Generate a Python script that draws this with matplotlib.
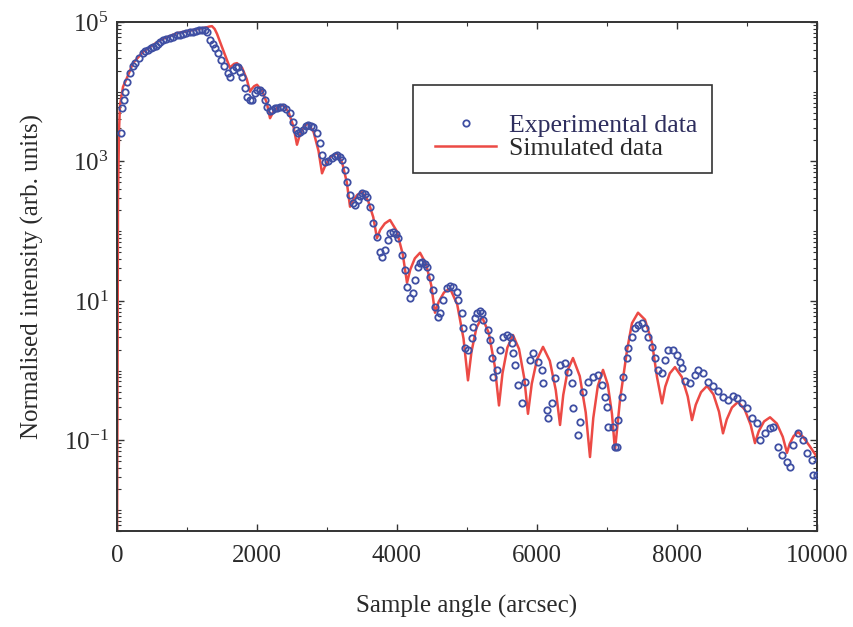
import matplotlib
matplotlib.use("Agg")
import matplotlib.pyplot as plt
import numpy as np
from matplotlib.patches import Rectangle
from matplotlib.ticker import FixedLocator, LogLocator, MultipleLocator, NullFormatter

# ---------------------------------------------------------------------------
# Data (intensities stored as log10 values)
# ---------------------------------------------------------------------------

# simulated rocking curve
sim_angle = [
    0, 14, 29, 43, 86, 143, 229, 371, 614, 857, 1086, 1286, 1320, 1357, 1395,
    1429, 1500, 1614, 1639, 1674, 1714, 1788, 1854, 1900, 1925, 1960, 2000,
    2074, 2140, 2186, 2232, 2297, 2371, 2451, 2521, 2571, 2611, 2666, 2729,
    2809, 2879, 2929, 2983, 3057, 3143, 3217, 3283, 3329, 3372, 3432, 3500,
    3586, 3661, 3714, 3761, 3826, 3900, 3997, 4082, 4143, 4190, 4255, 4329,
    4415, 4490, 4543, 4597, 4671, 4757, 4860, 4950, 5014, 5064,
    5134, 5214, 5311, 5396, 5457, 5507, 5577, 5657, 5743, 5818, 5871, 5925,
    6000, 6086, 6183, 6268, 6329, 6375, 6440, 6514, 6611, 6696, 6757, 6804,
    6869, 6943, 7011, 7071, 7114, 7186, 7286, 7357, 7443, 7543, 7643, 7714,
    7786, 7832, 7897, 7971, 8068, 8153, 8214, 8268, 8343, 8429, 8520, 8600,
    8657, 8711, 8785, 8871, 8968, 9053, 9114, 9168, 9243, 9329, 9426, 9511,
    9571, 9610, 9666, 9729, 9800, 9900, 10000,
]
sim_log_int = [
    -3.0, 2.45, 3.45, 3.81, 4.07, 4.20, 4.41, 4.57, 4.74, 4.84, 4.885, 4.925,
    4.935, 4.94, 4.90, 4.83, 4.64, 4.34, 4.37, 4.40, 4.41, 4.34, 4.18, 4.00,
    4.04, 4.08, 4.10, 4.01, 3.84, 3.62, 3.71, 3.78, 3.81, 3.71, 3.50, 3.24,
    3.38, 3.49, 3.55, 3.42, 3.15, 2.83, 2.96, 3.07, 3.12, 2.98, 2.70, 2.35,
    2.44, 2.52, 2.56, 2.44, 2.20, 1.90, 2.02, 2.11, 2.16, 2.00, 1.67, 1.26,
    1.45, 1.61, 1.69, 1.53, 1.22, 0.83, 0.99, 1.12, 1.18, 0.95,
    0.46, -0.14, 0.27, 0.61, 0.77, 0.54, 0.07, -0.50, -0.04, 0.33, 0.51, 0.31,
    -0.11, -0.62, -0.19, 0.16, 0.34, 0.14, -0.28, -0.78, -0.35, 0.01, 0.18,
    -0.08, -0.60, -1.24, -0.68, -0.22, 0.01, -0.20, -0.62, -1.14, -0.42, 0.29,
    0.68, 0.83, 0.73, 0.40, -0.09, -0.47, -0.23, -0.04, 0.05, -0.09, -0.37,
    -0.71, -0.49, -0.31, -0.22, -0.34, -0.59, -0.90, -0.70, -0.53, -0.45,
    -0.56, -0.78, -1.04, -0.87, -0.73, -0.67, -0.76, -0.95, -1.18, -1.05,
    -0.94, -0.88, -0.95, -1.09, -1.24,
]

# experimental points
exp_angle = [
    57, 71, 100, 114, 143, 186, 229, 257, 314, 371, 400, 443, 480, 514, 550,
    586, 620, 657, 700, 757, 800, 857, 900, 943, 990, 1043, 1090, 1129, 1170,
    1214, 1250, 1286, 1329, 1371, 1400, 1443, 1486, 1529, 1586, 1614, 1657,
    1700, 1729, 1757, 1786, 1829, 1857, 1900, 1929, 1971, 2000, 2043, 2071,
    2114, 2143, 2186, 2214, 2257, 2286, 2329, 2371, 2414, 2471, 2514, 2557,
    2586, 2614, 2657, 2700, 2729, 2771, 2800, 2857, 2900, 2929, 2971, 3014,
    3071, 3114, 3143, 3186, 3214, 3257, 3286, 3329, 3371, 3400, 3443, 3471,
    3500, 3543, 3571, 3614, 3657, 3714, 3757, 3786, 3829, 3871, 3900, 3943,
    3986, 4014, 4071, 4114, 4143, 4186, 4229, 4257, 4300, 4329, 4357, 4400,
    4429, 4471, 4514, 4543, 4586, 4614, 4657, 4714, 4757, 4800, 4857, 4871,
    4929, 4943, 4971, 5014, 5071, 5086, 5114, 5143, 5186, 5214, 5229, 5300,
    5329, 5357, 5371, 5429, 5471, 5514, 5571, 5614, 5643, 5657, 5686, 5729,
    5786, 5829, 5900, 5943, 6014, 6071, 6086, 6143, 6157, 6214, 6257, 6329,
    6400, 6443, 6500, 6514, 6586, 6614, 6657, 6729, 6800, 6871, 6929, 6971,
    7000, 7014, 7086, 7114, 7143, 7157, 7214, 7229, 7286, 7300, 7357, 7400,
    7443, 7500, 7543, 7586, 7643, 7686, 7729, 7786, 7829, 7871, 7943, 8000,
    8043, 8071, 8114, 8186, 8257, 8300, 8371, 8443, 8514, 8586, 8657, 8729,
    8800, 8857, 8929, 9000, 9071, 9143, 9186, 9257, 9329, 9371, 9443, 9500,
    9571, 9614, 9657, 9729, 9800, 9857, 9929, 9943, 10000,
]
exp_log_int = [
    3.41, 3.77, 3.88, 4.00, 4.14, 4.27, 4.37, 4.41, 4.48, 4.56, 4.58, 4.60,
    4.62, 4.64, 4.66, 4.68, 4.71, 4.74, 4.75, 4.77, 4.79, 4.81, 4.82, 4.83,
    4.84, 4.86, 4.86, 4.87, 4.88, 4.89, 4.88, 4.86, 4.74, 4.68, 4.63, 4.56,
    4.46, 4.37, 4.27, 4.21, 4.31, 4.35, 4.35, 4.28, 4.21, 4.05, 3.92, 3.88,
    3.88, 3.98, 4.02, 4.02, 4.00, 3.88, 3.78, 3.72, 3.74, 3.77, 3.77, 3.78,
    3.78, 3.75, 3.69, 3.57, 3.45, 3.41, 3.42, 3.45, 3.51, 3.52, 3.51, 3.49,
    3.41, 3.26, 3.09, 2.99, 3.01, 3.05, 3.08, 3.09, 3.06, 3.02, 2.88, 2.70,
    2.52, 2.40, 2.37, 2.45, 2.50, 2.55, 2.53, 2.49, 2.35, 2.12, 1.92, 1.70,
    1.63, 1.73, 1.87, 1.97, 1.99, 1.96, 1.90, 1.66, 1.44, 1.20, 1.04, 1.11,
    1.30, 1.49, 1.54, 1.56, 1.53, 1.49, 1.34, 1.16, 0.91, 0.77, 0.83, 1.01,
    1.18, 1.21, 1.20, 1.13, 1.01, 0.83, 0.61, 0.32, 0.29, 0.47, 0.62, 0.75,
    0.83, 0.85, 0.83, 0.72, 0.58, 0.44, 0.18, -0.09, 0.01, 0.29, 0.48, 0.51,
    0.48, 0.40, 0.25, 0.08, -0.21, -0.47, -0.17, 0.15, 0.25, 0.12, 0.01,
    -0.18, -0.57, -0.68, -0.47, -0.11, 0.08, 0.11, -0.02, -0.18, -0.54,
    -0.93, -0.74, -0.31, -0.17, -0.09, -0.07, -0.21, -0.38, -0.52, -0.81,
    -0.81, -1.10, -1.10, -0.71, -0.38, -0.09, 0.18, 0.32, 0.48, 0.61, 0.65,
    0.68, 0.61, 0.48, 0.34, 0.18, 0.01, -0.04, 0.15, 0.29, 0.29, 0.22, 0.12,
    0.04, -0.15, -0.18, -0.07, 0.01, -0.04, -0.17, -0.22, -0.29, -0.38,
    -0.42, -0.37, -0.39, -0.47, -0.54, -0.68, -0.75, -1.00, -0.90, -0.83,
    -0.81, -1.10, -1.21, -1.31, -1.38, -1.07, -0.90, -1.00, -1.18, -1.28,
    -1.50, -1.50,
]

y_tick_values = [1e-1, 1e1, 1e3, 1e5]
x_tick_values = [0, 2000, 4000, 6000, 8000, 10000]

# ---------------------------------------------------------------------------
# Style
# ---------------------------------------------------------------------------

TEXT = "#2a2a2a"
BLUE = "#3f4fa3"
RED = "#ec4a45"

plt.rcParams["font.family"] = ["Liberation Serif", "DejaVu Serif"]
plt.rcParams["mathtext.fontset"] = "custom"
plt.rcParams["mathtext.rm"] = "Liberation Serif"
plt.rcParams["mathtext.it"] = "Liberation Serif:italic"
plt.rcParams["font.size"] = 18

fig = plt.figure(figsize=(8.54, 6.27), dpi=100)
ax = fig.add_axes([117 / 854, 96 / 627, 700 / 854, 509 / 627])

sim_int = 10 ** np.array(sim_log_int)
exp_int = 10 ** np.array(exp_log_int)

ax.plot(sim_angle, sim_int, color=RED, linewidth=1.8, label="Simulated data",
        zorder=2)
ax.plot(exp_angle, exp_int, linestyle="none", marker="o", markersize=4.6,
        markerfacecolor="none", markeredgecolor=BLUE, markeredgewidth=1.3,
        label="Experimental data", zorder=3)

ax.set_yscale("log")
ax.set_xlim(0, 10000)
ax.set_ylim(5e-3, 1e5)

ax.yaxis.set_major_locator(FixedLocator(y_tick_values))
ax.yaxis.set_minor_locator(LogLocator(base=10, subs=np.arange(1, 10), numticks=20))
ax.yaxis.set_minor_formatter(NullFormatter())
ax.xaxis.set_major_locator(FixedLocator(x_tick_values))
ax.xaxis.set_minor_locator(MultipleLocator(1000))

ax.tick_params(which="both", direction="in", top=True, right=True,
               colors="#333333", labelcolor=TEXT, labelsize=18)
ax.tick_params(which="major", length=5, width=1.0)
ax.tick_params(which="minor", length=3, width=0.8)
ax.tick_params(axis="x", pad=10)
ax.tick_params(axis="y", pad=6)

for sp in ax.spines.values():
    sp.set_color("#333333")
    sp.set_linewidth(1.4)

ax.set_xlabel("Sample angle (arcsec)", color=TEXT, labelpad=20)
ax.set_ylabel("Normalised intensity (arb. units)", color=TEXT, labelpad=14)

# legend: frameless entries inside a hand-placed box
box = Rectangle((0.423, 0.703), 0.427, 0.173, transform=ax.transAxes,
                facecolor="white", edgecolor="#333333", linewidth=1.2,
                zorder=4)
ax.add_patch(box)

handles, labels = ax.get_legend_handles_labels()
leg = ax.legend(handles[::-1], labels[::-1], loc="upper left",
                bbox_to_anchor=(0.454, 0.82), fontsize=18.5, frameon=False,
                borderpad=0, handlelength=2.4, handletextpad=0.5,
                labelspacing=0.02, borderaxespad=0)
leg.set_zorder(5)
leg.get_texts()[0].set_color("#2e2e5e")
leg.get_texts()[1].set_color(TEXT)

fig.savefig("out.png", dpi=100, facecolor="white")
